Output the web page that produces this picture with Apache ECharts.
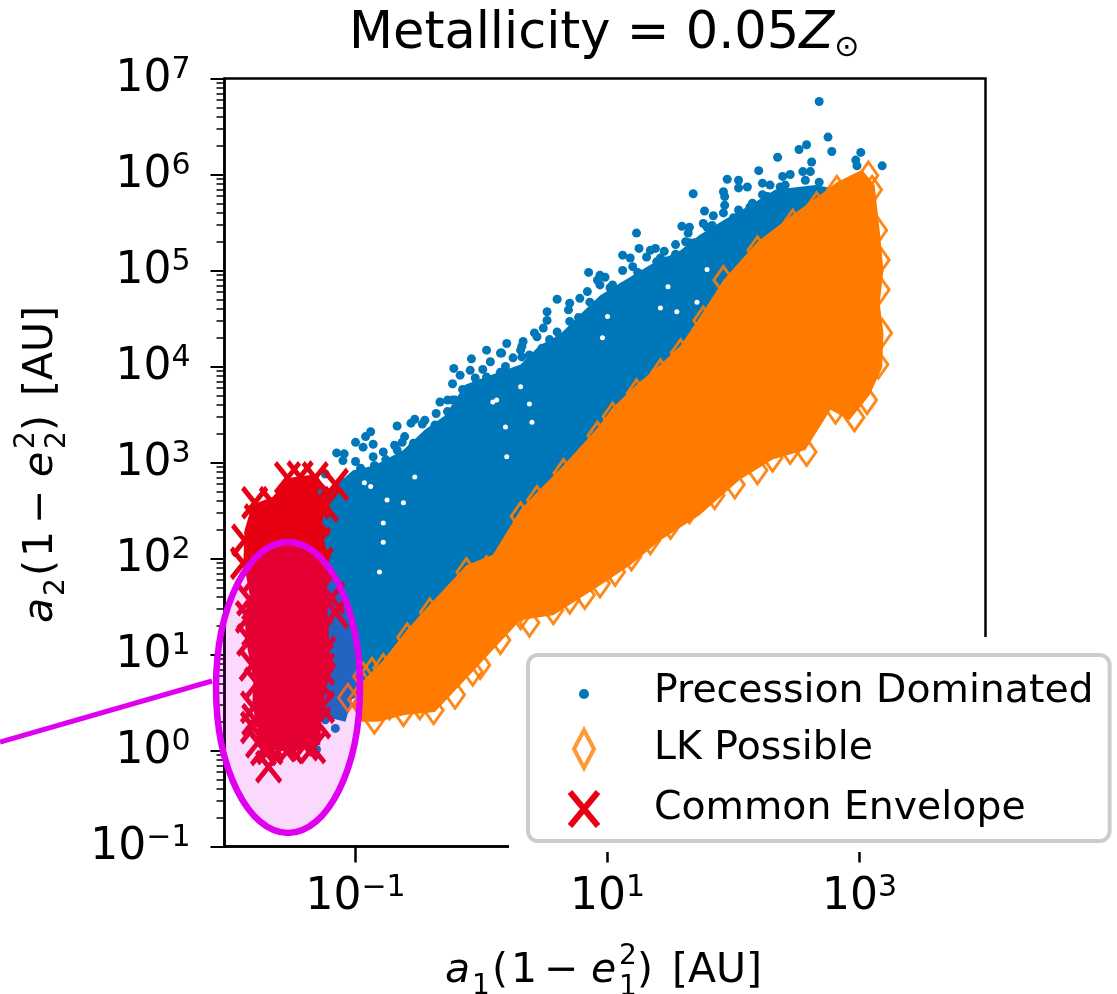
<!DOCTYPE html>
<html>
<head>
<meta charset="utf-8">
<style>html,body{margin:0;padding:0;background:#fff}#chart{width:1117px;height:994px}</style>
<script src="https://cdn.jsdelivr.net/npm/echarts@6/dist/echarts.min.js"></script>
</head>
<body>
<div id="chart"></div>
<script>
// all points are [log10 x, log10 y]
// the inner parts of the clouds are too dense to read one by one, so they are outlined (*Outline)
const precessionOutline = [[-1.30,2.82],[-1.20,2.71],[-1.02,2.92],[-0.85,2.97],[-0.62,3.13],[-0.45,3.34],[-0.29,3.49],[-0.13,3.81],[0.07,3.91],[0.31,4.02],[0.46,4.22],[0.62,4.33],[0.78,4.54],[0.94,4.74],[1.14,4.90],[1.34,5.06],[1.58,5.21],[1.73,5.37],[1.93,5.53],[2.13,5.68],[2.33,5.84],[2.65,5.89],[2.85,5.84],[3.00,4.69],[0.94,2.40],[-0.49,1.05],[-0.90,0.63],[-1.03,0.53],[-1.08,0.30],[-1.30,0.37]]
const precessionPoints = [[2.68,6.76],[2.75,6.39],[2.78,6.24],[2.58,6.31],[2.52,6.26],[2.35,6.18],[2.62,6.13],[3.01,6.23],[2.97,6.15],[2.98,6.09],[3.18,6.09],[2.20,6.04],[2.68,5.92],[1.95,5.95],[2.04,5.94],[1.68,5.80],[1.92,5.82],[1.93,5.77],[2.04,5.86],[2.11,5.87],[2.23,5.91],[2.39,5.98],[2.45,6.00],[2.55,6.03],[2.61,6.03],[1.77,5.62],[1.84,5.57],[1.92,5.60],[2.00,5.55],[2.13,5.66],[1.23,5.39],[1.25,5.23],[1.38,5.23],[1.45,5.20],[1.54,5.27],[1.59,5.46],[1.65,5.45],[1.64,5.39],[1.62,5.30],[1.76,5.49],[1.79,5.45],[1.89,5.42],[1.96,5.32],[1.69,5.29],[1.79,5.24],[1.85,5.23],[1.12,5.16],[1.18,5.13],[1.31,5.14],[1.39,5.09],[1.47,5.10],[1.60,5.12],[1.54,5.17],[1.12,5.00],[1.20,5.04],[1.69,5.06],[1.75,5.08],[0.98,4.93],[1.02,4.82],[1.12,4.83],[2.37,5.87],[2.50,5.81],[2.27,5.77],[2.15,5.70],[2.08,5.53],
  [0.85,4.98],[0.92,4.90],[0.94,4.85],[0.60,4.70],[0.70,4.66],[0.84,4.78],[0.78,4.71],[0.69,4.59],[0.52,4.57],[0.52,4.48],[0.49,4.40],[0.42,4.35],[0.44,4.31],[0.60,4.36],[0.20,4.24],[0.33,4.26],[0.32,4.21],[0.62,4.30],[0.48,4.19],[0.25,4.09],[0.32,4.10],[0.77,4.51],[0.16,4.14],
  [0.04,4.17],[0.15,4.14],[0.44,4.07],[-0.08,4.08],[-0.22,3.98],[-0.09,3.96],[0.01,3.97],[0.15,3.94],[0.29,3.93],[-0.17,3.91],[0.31,3.84],[-0.23,3.82],[-0.15,3.76],[0.04,3.89],[0.17,3.84],[0.20,3.72],[0.12,3.72],[-0.33,3.63],[-0.27,3.65],[-0.21,3.65],[-0.36,3.51],[-0.27,3.53],[-0.67,3.38],[-0.56,3.41],[-0.53,3.45],[-0.47,3.40],[-0.61,3.27],[-0.63,3.21],[-0.54,3.20],[-0.47,3.18],[-0.88,3.32],[-0.92,3.27],[-1.00,3.21],[-0.86,3.19],[-0.94,3.16],[-0.78,3.11],[-0.67,3.13],[-1.15,3.10],[-1.09,3.09],[-1.10,3.02],[-1.00,3.01],[-0.86,3.06],[-0.85,2.97],[-0.71,2.97],[-0.62,2.95],[-0.75,2.88],[-0.59,3.10],[-0.41,3.26],[-1.24,2.88],[-1.11,2.80],[-1.27,2.68],[-1.16,0.23],[-1.31,0.01],[-1.24,0.32],
  [-0.96,2.94],[-0.76,3.03],[-0.55,3.16],[-0.37,3.39],[-0.23,3.65],[-0.05,3.88],[0.19,4.00],[0.38,4.12],[0.54,4.28],[0.70,4.47],[0.86,4.67],[1.04,4.85],[1.24,4.98],[1.42,5.13],[1.65,5.29],[1.83,5.47],[2.04,5.63],[2.23,5.79],[2.41,5.89],[2.57,5.94],[2.29,5.89],[1.93,5.68],[1.34,5.21],[0.94,4.95],[0.31,4.17],[0.07,4.05],[-0.45,3.44],[-0.69,3.18]]
// empty specks left inside the blue cloud
const precessionGaps = [[0.20,3.06],[0.38,3.61],[0.40,3.42],[0.19,3.37],[0.12,3.65],[-0.62,2.58],[-0.75,2.61],[-0.93,2.79],[-0.53,2.85],[-0.78,2.17],[-0.78,2.37],[-0.81,1.86],[1.55,4.57],[1.00,4.52],[1.42,4.61],[1.71,4.67],[1.79,5.01],[1.48,4.83],[0.96,4.30],[0.09,3.63],[0.31,3.79],[-0.88,2.75]]

const lkOutline = [[-0.95,0.71],[-0.78,0.94],[-0.59,1.26],[-0.41,1.52],[-0.12,1.93],[0.09,2.04],[0.31,2.51],[0.44,2.69],[0.65,2.97],[0.92,3.36],[1.04,3.57],[1.23,3.81],[1.42,4.02],[1.58,4.22],[1.76,4.57],[1.92,4.90],[2.19,5.30],[2.47,5.58],[2.66,5.76],[2.82,5.92],[3.02,6.05],[3.12,5.89],[3.16,5.42],[3.19,5.00],[3.16,4.66],[3.19,4.35],[3.18,3.99],[3.08,3.70],[2.92,3.44],[2.77,3.55],[2.57,3.13],[2.31,3.03],[2.05,2.82],[1.73,2.45],[1.42,2.19],[1.18,1.93],[0.94,1.72],[0.57,1.41],[0.31,1.36],[-0.07,0.82],[-0.37,0.40],[-0.61,0.37],[-0.82,0.30],[-0.95,0.30],[-1.03,0.47]]
const lkPoints = [[-1.06,0.55],[-0.87,0.82],[-0.78,0.86],[-0.59,1.18],[-0.41,1.44],[-0.12,1.86],[0.04,1.88],[0.31,2.44],[0.44,2.61],[0.65,2.89],[0.92,3.28],[1.04,3.48],[1.23,3.72],[1.42,3.93],[1.58,4.14],[1.76,4.48],[1.92,4.90],[2.19,5.21],[2.47,5.49],[2.66,5.67],[2.82,5.84],[3.07,5.99],[3.10,5.84],[3.14,5.42],[3.16,5.11],[3.16,4.80],[3.18,4.35],[3.15,4.02],[3.06,3.65],[2.96,3.47],[2.81,3.55],[2.58,3.11],[2.45,3.13],[2.31,3.05],[2.19,2.92],[2.01,2.77],[1.85,2.66],[1.65,2.51],[1.50,2.35],[1.34,2.19],[1.19,2.02],[1.06,1.86],[0.94,1.74],[0.82,1.62],[0.70,1.57],[0.57,1.46],[0.38,1.33],[0.31,1.41],[0.15,1.15],[-0.01,0.89],[-0.07,0.82],[-0.21,0.58],[-0.38,0.42],[-0.49,0.47],[-0.62,0.40],[-0.73,0.47],[-0.85,0.32],[-0.94,0.77],[-0.98,0.53]]

const envelopeOutline = [[-1.82,2.56],[-1.66,2.64],[-1.52,2.84],[-1.30,2.88],[-1.24,2.61],[-1.27,2.30],[-1.21,1.98],[-1.23,1.67],[-1.21,1.15],[-1.20,0.84],[-1.27,0.42],[-1.28,0.06],[-1.52,-0.02],[-1.74,0.03],[-1.82,0.47],[-1.81,0.73],[-1.87,1.15],[-1.88,1.41],[-1.84,1.62],[-1.89,1.98],[-1.88,2.30]]
const envelopePoints = [[-1.16,2.77],[-1.80,2.58],[-1.88,2.19],[-1.89,1.95],[-1.44,2.85],[-1.32,2.84],[-1.54,2.84],[-1.66,2.58],[-1.78,2.40],[-1.16,1.44],[-1.19,1.59],[-1.69,-0.17],[-1.73,0.01],[-1.34,0.03],[-1.52,0.03],[-1.44,0.11],[-1.77,0.09],[-1.81,0.24],[-1.81,0.45],[-1.78,0.70],[-1.84,1.15],[-1.85,1.39],[-1.84,1.57],[-1.27,0.45],[-1.30,0.29],[-1.26,1.02],[-1.28,1.22],[-1.26,1.70],[-1.28,1.95],[-1.30,2.16],[-1.31,2.40],[-1.31,2.58],[-1.60,0.11],[-1.82,0.89],[-1.80,1.80],[-1.80,1.25],[-1.80,0.32],[-1.68,0.02],[-1.58,0.05],[-1.40,0.06],[-1.28,0.70],[-1.27,0.85],[-1.24,2.55]]

const xTickExps = [-1, 1, 3]
const yTickExps = [-1, 0, 1, 2, 3, 4, 5, 6, 7]
const yMinorSteps = [2, 3, 4, 5, 6, 7, 8, 9]

const BLUE = '#0077b8'
const ORANGE = '#ff7b00'
const RED = '#e60012'
const MAGENTA = '#e000f0'
const FONT = '"DejaVu Sans"'

const toValues = (list) => list.map((p) => [Math.pow(10, p[0]), Math.pow(10, p[1])])

const yMinorTicks = []
yTickExps.slice(0, -1).forEach((e) => {
  yMinorSteps.forEach((s) => yMinorTicks.push(s * Math.pow(10, e)))
})

const powerLabel = (value) => {
  const exp = Math.round(Math.log10(value))
  return '{b|10}{s|' + String(exp).replace('-', '\u2212') + '}'
}
const powerRich = {
  b: { fontFamily: FONT, fontSize: 44, color: '#000', lineHeight: 46, verticalAlign: 'bottom' },
  s: { fontFamily: FONT, fontSize: 30, color: '#000', lineHeight: 20, verticalAlign: 'top' },
}

// filled cloud body, drawn once from the outline values
const cloudBody = (outline, color) => ({
  type: 'custom',
  silent: true,
  data: outline,
  encode: { x: 0, y: 1 },
  renderItem: (params, api) => {
    if (params.dataIndex !== 0) return null
    return {
      type: 'polygon',
      shape: { points: outline.map((p) => api.coord(p)) },
      style: { fill: color },
    }
  },
})

// axis title pieces: [text, offset along the text, offset from baseline, size, italic]
const axisTitle = (index) => {
  const parts = [
    ['a', 0, 0, 41, true],
    [index, 27, 9, 28, false],
    ['(', 47, 0, 41, false],
    ['1', 66, 0, 41, false],
    ['\u2212', 99, 0, 41, false],
    ['e', 146, 0, 41, true],
    ['2', 174, -21, 28, false],
    [index, 174, 10, 28, false],
    [')', 192, 0, 41, false],
    ['[AU]', 227, 0, 41, false],
  ]
  return parts.map((p) => ({
    type: 'text',
    x: p[1],
    y: p[2],
    style: {
      text: p[0],
      fontFamily: FONT,
      fontSize: p[3],
      fontStyle: p[4] ? 'oblique' : 'normal',
      fill: '#000',
      verticalAlign: 'bottom',
    },
  }))
}

const chart = echarts.init(document.getElementById('chart'), null, { renderer: 'canvas' })

const titleToken = { fontFamily: FONT, fontSize: 51, fontWeight: 'normal', color: '#000', lineHeight: 56 }

chart.setOption({
  animation: false,
  backgroundColor: '#fff',
  title: {
    left: 344,
    top: 2,
    z: 6,
    text: '{m|Metallicity = 0.05}{z|Z}{o|\u2299}',
    textStyle: {
      fontWeight: 'normal',
      rich: {
        m: titleToken,
        z: { ...titleToken, fontStyle: 'oblique' },
        o: { fontFamily: FONT, fontSize: 30, fontWeight: 'normal', color: '#000', lineHeight: 30, verticalAlign: 'bottom' },
      },
    },
  },
  grid: {
    left: 224.5,
    top: 78.5,
    width: 761,
    height: 768,
    show: true,
    borderColor: '#000',
    borderWidth: 2.5,
    backgroundColor: '#fff',
  },
  xAxis: {
    type: 'log',
    min: Math.pow(10, -2.04),
    max: 10000,
    splitLine: { show: false },
    axisLine: { lineStyle: { color: '#000', width: 2.5 } },
    axisTick: {
      length: 16,
      lineStyle: { color: '#000', width: 2.5 },
      customValues: xTickExps.map((e) => Math.pow(10, e)),
    },
    axisLabel: {
      margin: 27,
      customValues: xTickExps.map((e) => Math.pow(10, e)),
      formatter: powerLabel,
      rich: powerRich,
    },
  },
  yAxis: [
    {
      type: 'log',
      min: 0.1,
      max: 10000000,
      splitLine: { show: false },
      axisLine: { lineStyle: { color: '#000', width: 2.5 } },
      axisTick: {
        length: 14,
        lineStyle: { color: '#000', width: 2 },
        customValues: yTickExps.map((e) => Math.pow(10, e)),
      },
      axisLabel: {
        margin: 34,
        customValues: yTickExps.map((e) => Math.pow(10, e)),
        formatter: powerLabel,
        rich: powerRich,
      },
    },
    {
      type: 'log',
      position: 'left',
      min: 0.1,
      max: 10000000,
      splitLine: { show: false },
      axisLine: { show: false },
      axisLabel: { show: false },
      axisTick: {
        length: 8,
        lineStyle: { color: '#000', width: 1.5 },
        customValues: yMinorTicks,
      },
    },
  ],
  legend: {
    orient: 'vertical',
    left: 528,
    top: 655,
    z: 10,
    padding: [16, 16, 8, 27],
    itemWidth: 52,
    itemHeight: 42,
    itemGap: 13,
    backgroundColor: 'rgba(255,255,255,0.9)',
    borderColor: '#cccccc',
    borderWidth: 4,
    borderRadius: 10,
    textStyle: { fontFamily: FONT, fontSize: 39.4, color: '#000', lineHeight: 42, padding: [0, 0, 0, 39] },
    data: [
      {
        name: 'Precession Dominated',
        icon: 'path://M0 0L0 0M52 42L52 42M21 23a5 5 0 1 0 10 0a5 5 0 1 0 -10 0Z',
        itemStyle: { color: BLUE, borderWidth: 0, opacity: 1 },
      },
      {
        name: 'LK Possible',
        icon: 'path://M0 0L0 0M52 42L52 42M26 2L36 21L26 40L16 21Z',
        itemStyle: { color: 'transparent', borderColor: '#ff9a33', borderWidth: 4, opacity: 1 },
      },
      {
        name: 'Common Envelope',
        icon: 'path://M0 0L0 0M52 42L52 42M12 4L40 38M40 4L12 38',
        itemStyle: { color: 'transparent', borderColor: RED, borderWidth: 6, opacity: 1 },
      },
    ],
  },
  series: [
    cloudBody(toValues(precessionOutline), BLUE),
    {
      name: 'Precession Dominated',
      type: 'scatter',
      symbol: 'circle',
      symbolSize: 9,
      silent: true,
      itemStyle: { color: BLUE, opacity: 1 },
      data: toValues(precessionPoints),
    },
    {
      name: 'gaps',
      type: 'scatter',
      symbol: 'circle',
      symbolSize: 5,
      silent: true,
      itemStyle: { color: '#fff', opacity: 1 },
      data: toValues(precessionGaps),
    },
    cloudBody(toValues(lkOutline), ORANGE),
    {
      name: 'LK Possible',
      type: 'scatter',
      symbol: 'diamond',
      symbolSize: [19, 27],
      silent: true,
      itemStyle: { color: 'transparent', borderColor: ORANGE, borderWidth: 3, opacity: 0.9 },
      data: toValues(lkPoints),
    },
    cloudBody(toValues(envelopeOutline), RED),
    {
      name: 'Common Envelope',
      type: 'scatter',
      symbol: 'path://M0 0L100 100M100 0L0 100',
      symbolSize: [24, 30],
      silent: true,
      itemStyle: { color: 'transparent', borderColor: RED, borderWidth: 5, opacity: 1 },
      data: toValues(envelopePoints),
    },
  ],
  graphic: [
    // the source figure has the frame cut away round the legend
    { type: 'rect', z: 3, shape: { x: 509, y: 842, width: 540, height: 10 }, style: { fill: '#fff' } },
    { type: 'rect', z: 3, shape: { x: 978, y: 637, width: 14, height: 215 }, style: { fill: '#fff' } },
    // callout
    {
      type: 'ellipse',
      z: 5,
      silent: true,
      shape: { cx: 288, cy: 687.5, rx: 72, ry: 145.5 },
      style: { fill: 'rgba(224,0,240,0.15)', stroke: MAGENTA, lineWidth: 6.5 },
    },
    {
      type: 'line',
      z: 5,
      silent: true,
      shape: { x1: 0, y1: 742, x2: 212, y2: 681 },
      style: { stroke: MAGENTA, lineWidth: 5 },
    },
    { type: 'group', x: 445, y: 992, z: 6, silent: true, children: axisTitle('1') },
    { type: 'group', x: 62, y: 623, z: 6, silent: true, rotation: Math.PI / 2, children: axisTitle('2') },
  ],
})
</script>
</body>
</html>
